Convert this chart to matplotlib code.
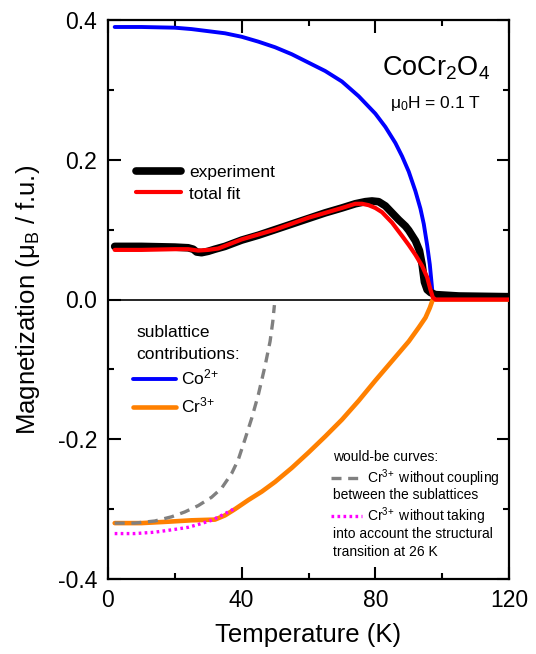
import matplotlib
matplotlib.use("Agg")
import matplotlib.pyplot as plt
from matplotlib.ticker import MultipleLocator, FormatStrFormatter

plt.rcParams["font.family"] = ["Liberation Sans", "DejaVu Sans"]
plt.rcParams["mathtext.fontset"] = "custom"
plt.rcParams["mathtext.rm"] = "Liberation Sans"
plt.rcParams["mathtext.it"] = "Liberation Sans:italic"
plt.rcParams["mathtext.bf"] = "Liberation Sans:bold"

# Co2+ sublattice magnetization (mu_B / f.u.)
co_T = [2, 10, 20, 25, 30, 35, 40, 45, 50, 55, 60, 65, 70, 75, 80, 83, 86, 88,
        90, 92, 93.5, 94.5, 95.5, 96.3, 97.0, 97.5, 100, 120]
co_M = [0.390, 0.390, 0.389, 0.387, 0.384, 0.381, 0.376, 0.369, 0.361, 0.351,
        0.339, 0.327, 0.312, 0.291, 0.266, 0.247, 0.224, 0.205, 0.183, 0.155,
        0.130, 0.108, 0.078, 0.050, 0.015, 0.0, 0.0, 0.0]

# Cr3+ sublattice magnetization
cr_T = [2, 10, 18, 25, 32, 35, 38, 42, 46, 50, 55, 60, 65, 70, 75, 80, 85, 90,
        93, 95, 96.3, 97.2, 120]
cr_M = [-0.320, -0.320, -0.318, -0.316, -0.315, -0.309, -0.300, -0.287, -0.275,
        -0.261, -0.241, -0.219, -0.196, -0.172, -0.145, -0.116, -0.088, -0.060,
        -0.040, -0.026, -0.012, 0.0, 0.0]

# measured magnetization
exp_T = [2, 10, 20, 24, 25.5, 26.5, 28, 30, 32, 35, 40, 45, 50, 55, 60, 65, 70,
         74, 77, 79, 81, 83, 85, 87, 89, 90, 92, 93.2, 94, 94.7, 95.5, 96.5,
         98, 105, 120]
exp_M = [0.076, 0.076, 0.075, 0.074, 0.072, 0.068, 0.067, 0.069, 0.072, 0.076,
         0.085, 0.092, 0.100, 0.108, 0.116, 0.124, 0.131, 0.137, 0.140, 0.141,
         0.140, 0.134, 0.124, 0.114, 0.105, 0.099, 0.084, 0.070, 0.050, 0.025,
         0.014, 0.010, 0.007, 0.005, 0.004]

# total fit (sum of sublattices)
fit_T = [2, 10, 20, 24, 27, 30, 33, 40, 50, 60, 70, 74, 76, 78, 80, 82, 85, 88,
         90, 92, 94, 95.5, 96.5, 97.2, 98, 120]
fit_M = [0.071, 0.071, 0.072, 0.072, 0.070, 0.071, 0.073, 0.086, 0.100, 0.117,
         0.131, 0.137, 0.137, 0.135, 0.131, 0.125, 0.110, 0.091, 0.078, 0.064,
         0.048, 0.032, 0.014, 0.003, 0.0, 0.0]

# Cr3+ without inter-sublattice coupling
unc_T = [2, 8, 14, 19, 23, 27, 31, 34, 37, 39, 41, 43, 45, 47, 48.5, 49.3, 49.8]
unc_M = [-0.320, -0.320, -0.317, -0.311, -0.304, -0.295, -0.283, -0.270, -0.249,
         -0.229, -0.200, -0.170, -0.136, -0.095, -0.060, -0.032, -0.008]

# Cr3+ without the structural transition
nst_T = [2, 8, 14, 20, 24, 27, 31, 34, 36, 38]
nst_M = [-0.335, -0.335, -0.333, -0.329, -0.326, -0.322, -0.316, -0.309,
         -0.304, -0.299]

x_ticks = [0, 40, 80, 120]
y_ticks = [-0.4, -0.2, 0.0, 0.2, 0.4]

fig = plt.figure(figsize=(5.36, 6.54), dpi=100)
ax = fig.add_axes([108 / 536, 75 / 654, 401 / 536, 559 / 654])

ax.axhline(0, color="black", lw=1.2, zorder=1)

l_co, = ax.plot(co_T, co_M, color="#0000ff", lw=2.8, zorder=3,
                solid_capstyle="round")
l_cr, = ax.plot(cr_T, cr_M, color="#ff8000", lw=3.3, zorder=3,
                solid_capstyle="round")
l_unc, = ax.plot(unc_T, unc_M, color="#808080", lw=2.4, ls=(0, (3, 2)),
                 zorder=4)
l_nst, = ax.plot(nst_T, nst_M, color="#ff00ff", lw=2.4, ls=(0, (0.8, 1.0)),
                 zorder=5)
l_exp, = ax.plot(exp_T, exp_M, color="black", lw=5.5, zorder=4,
                 solid_capstyle="round")
l_fit, = ax.plot(fit_T, fit_M, color="#ff0000", lw=3.0, zorder=5,
                 solid_capstyle="round")

ax.set_xlim(0, 120)
ax.set_ylim(-0.4, 0.4)
ax.set_xticks(x_ticks)
ax.set_yticks(y_ticks)
ax.xaxis.set_minor_locator(MultipleLocator(20))
ax.yaxis.set_minor_locator(MultipleLocator(0.1))
ax.yaxis.set_major_formatter(FormatStrFormatter("%.1f"))
ax.tick_params(which="both", direction="in", top=True, right=True, width=1.5,
               labelsize=16.5)
ax.tick_params(which="major", length=9)
ax.tick_params(which="minor", length=4.5)
ax.tick_params(axis="x", pad=7)
ax.tick_params(axis="y", pad=8)
for s in ax.spines.values():
    s.set_linewidth(1.6)

ax.set_xlabel("Temperature (K)", fontsize=18.5, labelpad=8)
ax.set_ylabel("Magnetization (μ$_{\\mathrm{B}}$ / f.u.)", fontsize=18.5)
ax.yaxis.set_label_coords(-0.165, 0.5)

# sample and field
ax.text(0.819, 0.9016, "CoCr$_2$O$_4$", fontsize=19.5, ha="center",
        va="baseline", transform=ax.transAxes)
ax.text(0.816, 0.8426, "μ$_0$H = 0.1 T", fontsize=12.5, ha="center",
        va="baseline", transform=ax.transAxes)

leg1 = ax.legend([l_exp, l_fit], ["experiment", "total fit"], loc="upper left",
                 bbox_to_anchor=(0.0698, 0.741), frameon=False, fontsize=12.5,
                 borderpad=0, borderaxespad=0, handlelength=2.6,
                 handletextpad=0.45, labelspacing=0.37)
ax.add_artist(leg1)

ax.text(0.0698, 0.433, "sublattice", fontsize=12.5, ha="left",
        va="baseline", transform=ax.transAxes)
ax.text(0.0698, 0.3936, "contributions:", fontsize=12.5, ha="left",
        va="baseline", transform=ax.transAxes)
leg2 = ax.legend([l_co, l_cr], ["Co$^{2\\!+}$", "Cr$^{3\\!+}$"],
                 loc="upper left", bbox_to_anchor=(0.062, 0.3775),
                 frameon=False, fontsize=12.5, borderpad=0, borderaxespad=0,
                 handlelength=2.5, handletextpad=0.25, labelspacing=0.45)
ax.add_artist(leg2)

ax.text(0.561, (579 - 460.7) / 559, "would-be curves:", fontsize=10,
        ha="left", va="baseline", transform=ax.transAxes)
leg3 = ax.legend([l_unc, l_nst],
                 ["Cr$^{3\\!+}$ without coupling", "Cr$^{3\\!+}$ without taking"],
                 loc="upper left", bbox_to_anchor=(0.556, 0.2), frameon=False,
                 fontsize=10, borderpad=0, borderaxespad=0, handlelength=2.2,
                 handletextpad=0.43, labelspacing=1.2)
ax.text(0.561, (579 - 499) / 559, "between the sublattices", fontsize=10,
        ha="left", va="baseline", transform=ax.transAxes)
ax.text(0.561, (579 - 538) / 559, "into account the structural",
        fontsize=10, ha="left", va="baseline", transform=ax.transAxes)
ax.text(0.561, (579 - 555.5) / 559, "transition at 26 K", fontsize=10,
        ha="left", va="baseline", transform=ax.transAxes)

fig.savefig("out.png", dpi=100)
